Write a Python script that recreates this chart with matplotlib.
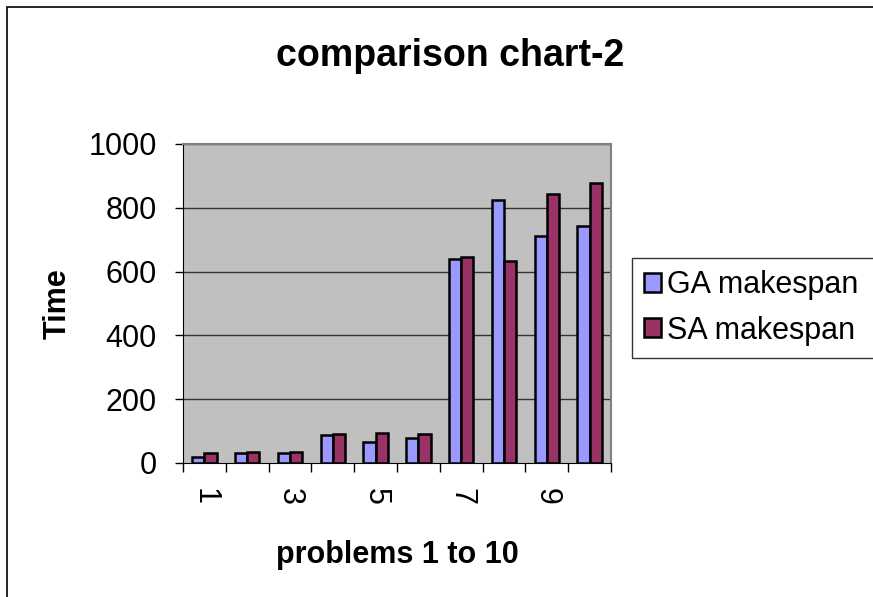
import matplotlib
matplotlib.use("Agg")
import matplotlib.pyplot as plt
from matplotlib.patches import Rectangle
import numpy as np

plt.rcParams['font.family'] = ['Liberation Sans', 'DejaVu Sans']

problems = [1, 2, 3, 4, 5, 6, 7, 8, 9, 10]
ga_makespan = [20, 30, 32, 88, 66, 79, 640, 826, 711, 743]
sa_makespan = [32, 33, 36, 91, 95, 91, 647, 633, 842, 878]
yticks = [0, 200, 400, 600, 800, 1000]
xlabels_shown = ["1", "3", "5", "7", "9"]

W, H = 873, 597
fig = plt.figure(figsize=(W / 100, H / 100), dpi=100)
fig.patch.set_facecolor('white')

# outer chart border (top and left visible)
fig.add_artist(Rectangle((7 / W, -0.1), 1.2, (H - 7) / H + 0.1, transform=fig.transFigure,
                         fill=False, edgecolor='black', linewidth=1.2))

ax = fig.add_axes([183 / W, (H - 463) / H, 428 / W, 319 / H])
ax.set_facecolor('#C0C0C0')

x = np.arange(len(problems))
bw = 0.285
ax.bar(x - bw / 2, ga_makespan, bw, color='#9999FF', edgecolor='black', linewidth=1.8,
       label='GA makespan', zorder=3)
ax.bar(x + bw / 2, sa_makespan, bw, color='#993366', edgecolor='black', linewidth=1.8,
       label='SA makespan', zorder=3)

ax.set_xlim(-0.5, len(problems) - 0.5)
ax.set_ylim(0, 1000)
ax.set_yticks(yticks)
ax.set_yticklabels([str(v) for v in yticks], fontsize=22)
for v in yticks[1:]:
    ax.axhline(v, color='#333333', linewidth=1.0, zorder=1)

ax.set_xticks(np.arange(-0.5, len(problems)), minor=False)
ax.set_xticklabels([])
ax.set_xticks(x[::2], minor=True)
ax.set_xticklabels(xlabels_shown, minor=True, rotation=-90, fontsize=22)
ax.tick_params(axis='x', which='major', direction='out', length=6.5, width=1, color='black')
ax.tick_params(axis='x', which='minor', length=0, pad=18)
ax.tick_params(axis='y', direction='out', length=6, width=1, color='black', pad=13)

for s in ['top', 'right']:
    ax.spines[s].set_color('#808080')
    ax.spines[s].set_linewidth(1.5)
ax.spines['left'].set_color('black')
ax.spines['bottom'].set_color('black')

fig.text(450 / W, 1 - 56 / H, 'comparison chart-2', fontsize=27, fontweight='bold',
         ha='center', va='center')
fig.text(58 / W, 1 - 304 / H, 'Time', fontsize=22, fontweight='bold', rotation=90,
         ha='center', va='center')
fig.text(397 / W, 1 - 555 / H, 'problems 1 to 10', fontsize=22, fontweight='bold',
         ha='center', va='center')

leg = fig.legend(loc='upper left', bbox_to_anchor=(632 / W, 1 - 347 / H, 262 / W, 89 / H),
                 mode='expand', fontsize=22,
                 frameon=True, fancybox=False, edgecolor='black', handlelength=0.55,
                 handleheight=0.55, handletextpad=0.2, borderpad=0.4, labelspacing=0.5,
                 borderaxespad=0)
leg.get_frame().set_linewidth(1.0)
for h in leg.legend_handles:
    h.set_linewidth(1.8)

fig.savefig('out.png', dpi=100)
